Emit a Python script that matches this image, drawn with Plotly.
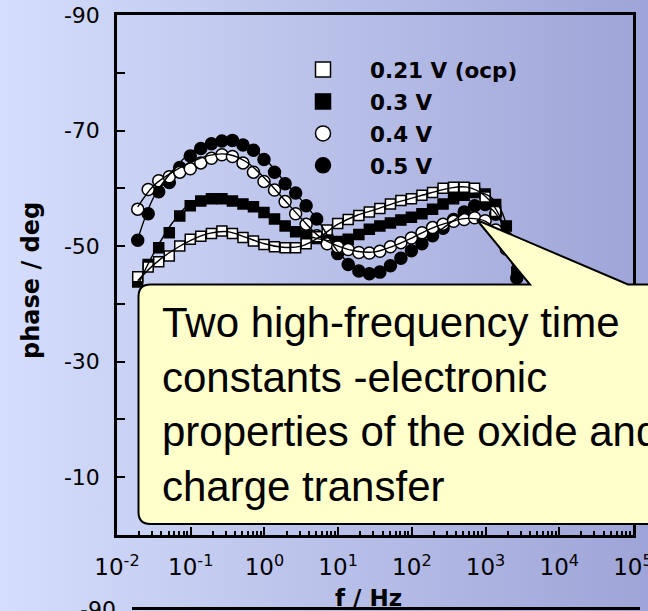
import base64
import plotly.graph_objects as go

# ---- measured impedance phase (deg) vs. frequency ----
freq_hz = [0.0191, 0.0265, 0.0368, 0.0512, 0.0710, 0.0986, 0.137, 0.191, 0.265, 0.368,
           0.512, 0.710, 0.986, 1.37, 1.91, 2.65, 3.68, 5.12, 7.10, 9.86,
           13.7, 19.1, 26.5, 36.8, 51.2, 71.0, 98.6, 137, 191, 265,
           368, 512, 710, 986, 1370, 1910, 2650]

phase_021 = [-44.7, -46.4, -47.3, -48.3, -50.0, -51.2, -51.7, -52.2, -52.6, -52.2,
             -51.5, -50.9, -50.3, -49.9, -49.7, -49.7, -50.4, -51.6, -52.8, -53.9,
             -54.6, -55.3, -55.9, -56.5, -57.3, -57.9, -58.2, -58.8, -59.3, -60.0,
             -60.2, -60.2, -60.0, -58.5, -56.0, -51.0, -42.0]

phase_03 = [-43.8, -46.8, -49.7, -52.3, -55.2, -57.0, -57.8, -58.2, -58.2, -57.8,
            -57.3, -56.8, -55.8, -54.7, -53.5, -52.5, -51.9, -51.3, -50.9, -50.8,
            -51.2, -52.0, -52.9, -53.5, -54.0, -54.5, -55.0, -55.6, -56.4, -57.3,
            -58.2, -58.8, -59.3, -59.0, -57.2, -53.5, -45.5]

phase_04 = [-56.4, -59.8, -61.3, -62.0, -62.8, -63.4, -64.4, -65.2, -65.8, -65.5,
            -64.4, -62.8, -61.2, -59.7, -57.7, -55.6, -53.8, -51.8, -50.4, -49.9,
            -49.4, -48.9, -48.8, -49.1, -49.9, -50.6, -51.4, -52.3, -53.2, -53.8,
            -54.3, -54.6, -54.9, -54.4, -52.8, -49.5, -42.0]

phase_05 = [-51.0, -55.6, -59.4, -61.0, -63.6, -65.6, -66.9, -67.7, -68.2, -68.3,
            -67.5, -66.6, -65.0, -62.8, -60.8, -59.2, -57.0, -54.7, -51.6, -48.7,
            -46.8, -45.7, -45.2, -45.5, -46.6, -47.9, -49.2, -50.4, -51.8, -53.1,
            -54.6, -55.9, -57.0, -57.2, -55.5, -51.5, -44.5]

# ---- equivalent-circuit fits ----
fit_freq_hz = [0.0191, 0.0316, 0.0562, 0.1, 0.178, 0.316, 0.562, 1.0, 1.78, 3.16,
               5.62, 10, 17.8, 31.6, 56.2, 100, 178, 316, 562, 1000, 1580, 2650]

fit_021 = [-44.0, -46.8, -49.2, -51.0, -52.2, -52.5, -51.5, -50.4, -49.8, -50.0,
           -51.6, -53.8, -55.3, -56.3, -57.4, -58.3, -59.2, -60.0, -60.2, -58.6, -55.0, -44.0]
fit_03 = [-43.2, -48.8, -54.0, -57.5, -58.6, -58.3, -57.3, -55.8, -53.8, -52.2,
          -51.2, -50.9, -51.8, -53.2, -54.2, -55.0, -56.2, -57.8, -58.9, -59.0, -56.5, -45.5]
fit_04 = [-56.8, -60.5, -62.8, -64.5, -65.7, -65.9, -64.6, -61.8, -58.3, -54.8,
          -51.6, -50.0, -49.1, -49.0, -50.0, -51.4, -53.0, -54.1, -54.8, -54.3, -51.8, -44.5]
fit_05 = [-51.2, -58.5, -63.0, -66.2, -67.9, -68.4, -67.6, -65.2, -61.5, -58.0,
          -54.0, -49.0, -46.0, -45.4, -46.8, -49.2, -51.5, -53.8, -56.0, -57.0, -54.5, -45.5]

series_labels = ["0.21 V (ocp)", "0.3 V", "0.4 V", "0.5 V"]

x_tick_vals = [0.01, 0.1, 1, 10, 100, 1000, 10000, 100000]
x_tick_text = ["10<sup>-2</sup>", "10<sup>-1</sup>", "10<sup>0</sup>", "10<sup>1</sup>",
               "10<sup>2</sup>", "10<sup>3</sup>", "10<sup>4</sup>", "10<sup>5</sup>"]
y_tick_vals = [-90, -80, -70, -60, -50, -40, -30, -20, -10, 0]
y_tick_text = ["-90", "", "-70", "", "-50", "", "-30", "", "-10", ""]

callout_text = ("Two high-frequency time<br>constants -electronic<br>"
                "properties of the oxide and<br>charge transfer")

# ---- page geometry (pixels) ----
W, H = 648, 611
PL, PR, PT, PB = 117, 633, 15, 535


def fx(p):
    return (p - PL) / (PR - PL)


def fy(p):
    return (PB - p) / (PB - PT)


Y_TICK_FONT = dict(family="DejaVu Sans", size=22, color="black")
X_TICK_FONT = dict(family="DejaVu Sans", size=23, color="black")


def bold(size):
    return dict(family="DejaVu Sans", size=size, color="black", weight="bold")


styles = {
    "0.21 V (ocp)": dict(symbol="square", color="white", size=10),
    "0.3 V": dict(symbol="square", color="black", size=10),
    "0.4 V": dict(symbol="circle", color="white", size=12),
    "0.5 V": dict(symbol="circle", color="black", size=12),
}
data = {"0.21 V (ocp)": phase_021, "0.3 V": phase_03, "0.4 V": phase_04, "0.5 V": phase_05}
fits = {"0.21 V (ocp)": fit_021, "0.3 V": fit_03, "0.4 V": fit_04, "0.5 V": fit_05}

fig = go.Figure()

# measured points: filled symbols first, open symbols on top
for name in ["0.5 V", "0.3 V", "0.4 V", "0.21 V (ocp)"]:
    st = styles[name]
    fig.add_trace(go.Scatter(
        x=freq_hz, y=data[name], mode="markers", showlegend=False,
        marker=dict(symbol=st["symbol"], size=st["size"], color=st["color"],
                    line=dict(color="black", width=1.5)),
    ))

# fitted curves
for name in series_labels:
    fig.add_trace(go.Scatter(
        x=fit_freq_hz, y=fits[name], mode="lines", showlegend=False,
        line=dict(color="black", width=1.4, shape="spline", smoothing=1.0),
    ))

# legend entries
for rank, name in enumerate(series_labels):
    st = styles[name]
    fig.add_trace(go.Scatter(
        x=[None], y=[None], mode="markers", name=name, legendrank=rank + 1,
        legendgroup=name,
        marker=dict(symbol=st["symbol"], size=15, color=st["color"],
                    line=dict(color="black", width=1.5)),
    ))

# slide background gradient
svg = ("<svg xmlns='http://www.w3.org/2000/svg' width='648' height='611'>"
       "<defs><linearGradient id='g' x1='0' y1='0' x2='1' y2='0'>"
       "<stop offset='0' stop-color='#D5DEFC'/><stop offset='1' stop-color='#9EA4D7'/>"
       "</linearGradient></defs><rect width='648' height='611' fill='url(#g)'/></svg>")
bg_src = "data:image/svg+xml;base64," + base64.b64encode(svg.encode()).decode()

# callout balloon with pointer
bx0, by0, by1, bx1, r = 138.5, 284.5, 524.0, 720.0, 12.0
tip = (477.0, 220.0)
base_l, base_r = 530.0, 628.0
pts = [
    ("M", bx0 + r, by0), ("L", base_l, by0), ("L", tip[0], tip[1]), ("L", base_r, by0),
    ("L", bx1, by0), ("L", bx1, by1), ("L", bx0 + r, by1),
]
path = " ".join(f"{c} {fx(x):.5f},{fy(y):.5f}" for c, x, y in pts)
path += f" Q {fx(bx0):.5f},{fy(by1):.5f} {fx(bx0):.5f},{fy(by1 - r):.5f}"
path += f" L {fx(bx0):.5f},{fy(by0 + r):.5f}"
path += f" Q {fx(bx0):.5f},{fy(by0):.5f} {fx(bx0 + r):.5f},{fy(by0):.5f} Z"

shapes = [
    dict(type="path", xref="paper", yref="paper", path=path, layer="above",
         fillcolor="#FFFFCC", line=dict(color="black", width=2)),
    # top frame of the following chart on the slide
    dict(type="line", xref="paper", yref="paper", x0=fx(132), x1=fx(640),
         y0=fy(608.5), y1=fy(608.5), line=dict(color="black", width=3)),
]

annotations = [
    dict(text=callout_text, xref="paper", yref="paper", x=fx(160), y=fy(404),
         xanchor="left", yanchor="middle", align="left", showarrow=False,
         font=dict(family="Liberation Sans, Arial", size=42, color="black")),
    dict(text="phase / deg", xref="paper", yref="paper", x=fx(31), y=fy(281),
         xanchor="center", yanchor="middle", textangle=-90, showarrow=False,
         font=bold(24)),
    dict(text="f / Hz", xref="paper", yref="paper", x=fx(368), y=fy(598),
         xanchor="center", yanchor="middle", showarrow=False,
         font=bold(23)),
    dict(text="-90", xref="paper", yref="paper", x=fx(118), y=fy(609),
         xanchor="right", yanchor="middle", showarrow=False, font=Y_TICK_FONT),
]

fig.update_layout(
    width=W, height=H, autosize=False,
    margin=dict(l=PL, r=W - PR, t=PT, b=H - PB, pad=0, autoexpand=False),
    paper_bgcolor="#BAC1EC", plot_bgcolor="rgba(0,0,0,0)",
    images=[dict(source=bg_src, xref="paper", yref="paper", x=fx(0), y=fy(0),
                 sizex=W / (PR - PL), sizey=H / (PB - PT), xanchor="left", yanchor="top",
                 sizing="stretch", layer="below")],
    shapes=shapes, annotations=annotations,
    showlegend=True,
    legend=dict(x=fx(276), y=fy(49), xanchor="left", yanchor="top",
                bgcolor="rgba(0,0,0,0)", borderwidth=0, itemwidth=84,
                font=bold(21.5), tracegroupgap=1, traceorder="grouped"),
    xaxis=dict(type="log", range=[-2, 5], tickmode="array", tickvals=x_tick_vals,
               ticktext=x_tick_text, ticks="inside", ticklen=8, tickwidth=2,
               tickcolor="black", showline=True, linecolor="black", linewidth=2.5,
               mirror=True, showgrid=False, zeroline=False, tickfont=X_TICK_FONT,
               ticklabelstandoff=10, ticklabeloverflow="allow", automargin=False,
               minor=dict(ticks="inside", ticklen=4, tickwidth=1.5, tickcolor="black",
                          dtick="D1", showgrid=False)),
    yaxis=dict(range=[0, -90], tickmode="array", tickvals=y_tick_vals,
               ticktext=y_tick_text, ticks="inside", ticklen=8, tickwidth=2,
               tickcolor="black", showline=True, linecolor="black", linewidth=2.5,
               mirror=True, showgrid=False, zeroline=False, tickfont=Y_TICK_FONT,
               ticklabelstandoff=10, automargin=False),
)

fig.write_html("out.html")
